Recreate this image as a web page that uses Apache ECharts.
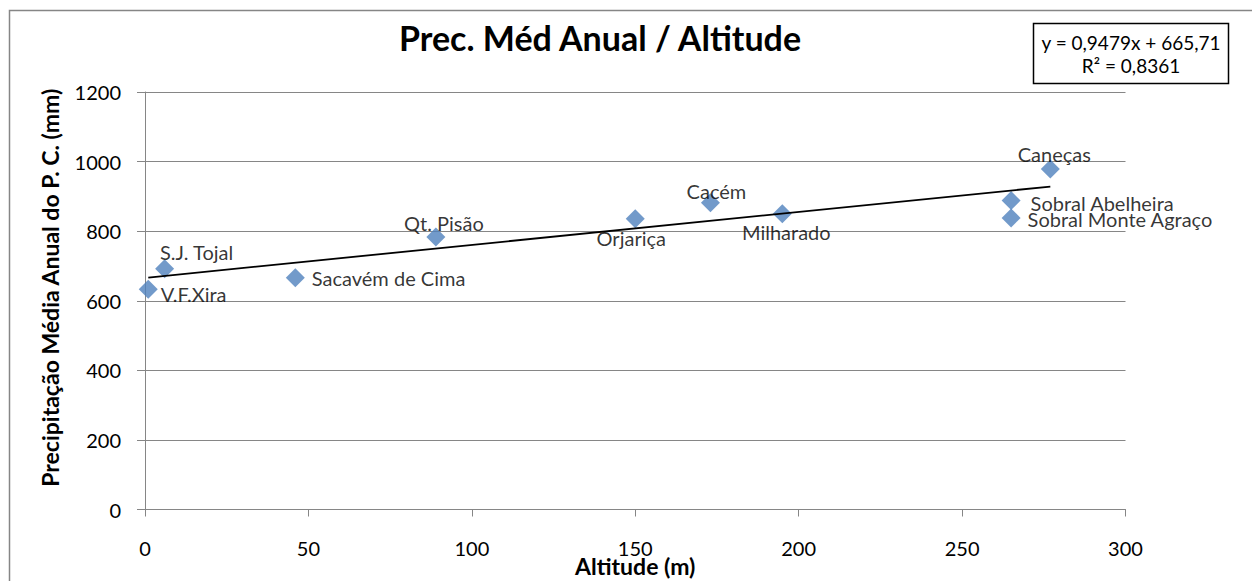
<!DOCTYPE html>
<html>
<head>
<meta charset="utf-8">
<title>Prec. Méd Anual / Altitude</title>
<script src="https://cdn.jsdelivr.net/npm/echarts@6/dist/echarts.min.js"></script>
<style>
  html, body { margin: 0; padding: 0; background: #fff; }
  #chart { width: 1252px; height: 581px; }
</style>
</head>
<body>
<div id="chart"></div>
<script>
// stations, altitude (m) and mean annual precipitation (mm)
const stations = ['V.F.Xira', 'S.J. Tojal', 'Sacavém de Cima', 'Qt. Pisão', 'Orjariça', 'Cacém', 'Milharado', 'Caneças', 'Sobral Abelheira', 'Sobral Monte Agraço'];
const altitude = [1, 6, 46, 89, 150, 173, 195, 277, 265, 265];
const precip = [633, 692, 666, 783, 836, 882, 850, 979, 888, 838];

// linear trendline as printed on the chart
const slope = 0.9479;
const intercept = 665.71;
const equationText = ['y = 0,9479x + 665,71', 'R² = 0,8361'];

const font = 'Lato, "Open Sans", sans-serif';
const gray = '#868686';
const blue = '#4F81BD';

// where each data label sits, the way Excel placed them
const labelPlace = [
    { position: 'right', distance: 3, offset: [0, 5] },
    { position: 'inside', offset: [32, -17] },
    { position: 'right', distance: 7, offset: [0, 0] },
    { position: 'inside', offset: [8, -14] },
    { position: 'inside', offset: [-4, 19] },
    { position: 'inside', offset: [6, -12] },
    { position: 'inside', offset: [4, 18] },
    { position: 'inside', offset: [4, -15] },
    { position: 'right', distance: 10, offset: [0, 2], lineHeight: 16 },
    { position: 'right', distance: 7, offset: [0, 1], lineHeight: 16 }
];

const points = stations.map((name, i) => ({
    name: name,
    value: [altitude[i], precip[i]],
    label: labelPlace[i]
}));

const xMin = Math.min(...altitude);
const xMax = Math.max(...altitude);
const trend = [xMin, xMax].map(x => [x, slope * x + intercept]);

const chart = echarts.init(document.getElementById('chart'), null, { renderer: 'svg' });
chart.setOption({
    animation: false,
    backgroundColor: '#fff',
    textStyle: { fontFamily: font },
    grid: { left: 145, right: 126.5, top: 92, bottom: 71.5, containLabel: false, outerBoundsMode: 'none' },
    xAxis: {
        type: 'value',
        min: 0, max: 300, interval: 50,
        name: 'Altitude (m)',
        nameLocation: 'middle',
        nameGap: 45,
        nameMoveOverlap: false,
        nameTextStyle: { fontFamily: font, fontWeight: 'bold', fontSize: 23, color: '#000' },
        axisLine: { show: true, lineStyle: { color: gray, width: 1 } },
        axisTick: { show: true, inside: false, length: 7, lineStyle: { color: gray } },
        axisLabel: { fontFamily: font, fontSize: 20, color: '#000', margin: 28 },
        splitLine: { show: false }
    },
    yAxis: {
        type: 'value',
        min: 0, max: 1200, interval: 200,
        name: 'Precipitação Média Anual do P. C. (mm)',
        nameLocation: 'middle',
        nameGap: 84,
        nameMoveOverlap: false,
        nameTextStyle: { fontFamily: font, fontWeight: 'bold', fontSize: 23, color: '#000', padding: [0, 0, 0, 26] },
        axisLine: { show: true, lineStyle: { color: gray, width: 1 } },
        axisTick: { show: true, inside: false, length: 8, lineStyle: { color: gray } },
        axisLabel: { fontFamily: font, fontSize: 20, color: '#000', margin: 24, formatter: v => String(v) },
        splitLine: { show: true, lineStyle: { color: gray, width: 1 } }
    },
    series: [
        {
            type: 'scatter',
            symbol: 'diamond',
            symbolSize: 19,
            itemStyle: { color: blue },
            data: points,
            label: {
                show: true,
                formatter: '{b}',
                fontFamily: font,
                fontSize: 20,
                color: '#000'
            },
            z: 2
        },
        {
            type: 'line',
            data: trend,
            symbol: 'none',
            lineStyle: { color: '#000', width: 1.8 },
            silent: true,
            z: 3
        }
    ],
    graphic: [
        {
            type: 'rect',
            shape: { x: 9.5, y: 10.5, width: 1400, height: 1000 },
            style: { fill: 'none', stroke: gray, lineWidth: 1.5 },
            silent: true
        },
        {
            type: 'text',
            x: 600, y: 37,
            style: {
                text: 'Prec. Méd Anual / Altitude',
                font: 'bold 34px ' + font,
                fill: '#000',
                align: 'center',
                verticalAlign: 'middle'
            }
        },
        {
            type: 'rect',
            shape: { x: 1033.5, y: 23.5, width: 195, height: 60 },
            style: { fill: '#fff', stroke: '#000', lineWidth: 1.5 }
        },
        {
            type: 'text',
            x: 1131, y: 42,
            style: { text: equationText[0], font: '19px ' + font, fill: '#000', align: 'center', verticalAlign: 'middle' }
        },
        {
            type: 'text',
            x: 1131, y: 65,
            style: { text: equationText[1], font: '19px ' + font, fill: '#000', align: 'center', verticalAlign: 'middle' }
        }
    ]
});
</script>
</body>
</html>
